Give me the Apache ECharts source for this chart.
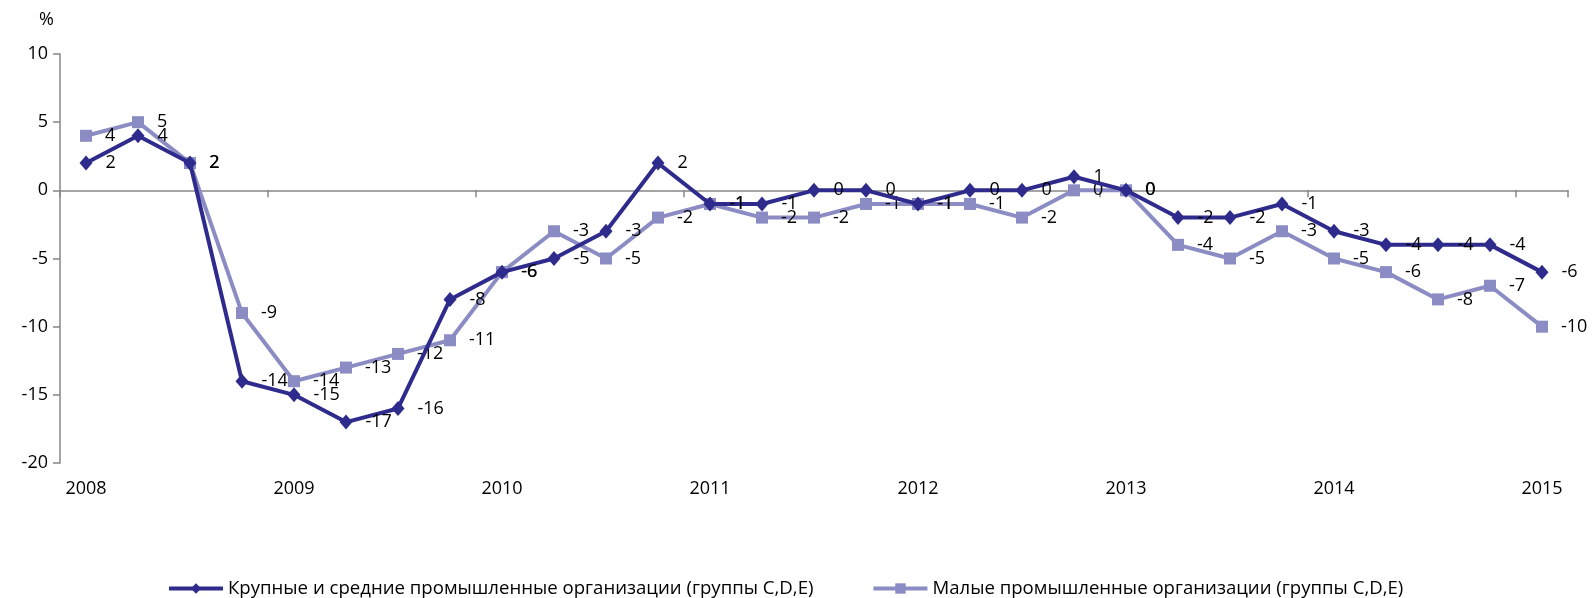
<!DOCTYPE html>
<html>
<head>
<meta charset="utf-8">
<script src="https://cdn.jsdelivr.net/npm/echarts@6/dist/echarts.min.js"></script>
<style>
  html, body { margin: 0; padding: 0; background: #fff; }
  #chart { width: 1594px; height: 598px; }
</style>
</head>
<body>
<div id="chart"></div>
<script>
// годы на оси X (подписи каждые 4 квартала)
var years = ['2008', '2009', '2010', '2011', '2012', '2013', '2014', '2015'];

// крупные и средние организации, по кварталам 2008 I - 2015 I
var bigOrgs = [2, 4, 2, -14, -15, -17, -16, -8, -6, -5, -3, 2, -1, -1, 0, 0,
               -1, 0, 0, 1, 0, -2, -2, -1, -3, -4, -4, -4, -6];
// малые организации
var smallOrgs = [4, 5, 2, -9, -14, -13, -12, -11, -6, -3, -5, -2, -1, -2, -2, -1,
                 -1, -1, -2, 0, 0, -4, -5, -3, -5, -6, -8, -7, -10];

var seriesNames = [
  'Крупные и средние промышленные организации (группы C,D,E)',
  'Малые промышленные организации (группы C,D,E)'
];

// кварталы: 4 на каждый год, последний год — только I квартал
var quarters = [];
for (var i = 0; i < bigOrgs.length; i++) {
  quarters.push(years[Math.floor(i / 4)] + '-' + (i % 4 + 1));
}

var font = 'Open Sans';
var axisColor = '#868686';
var navy = '#2E2B8C';
var lilac = '#8C8CC4';

var myChart = echarts.init(document.getElementById('chart'));

var labelOpt = {
  show: true,
  position: 'right',
  distance: 13,
  color: '#000',
  fontFamily: font,
  fontSize: 18
};

var option = {
  animation: false,
  title: {
    text: '%',
    left: 34,
    top: 6,
    textStyle: { fontFamily: font, fontSize: 18, fontWeight: 'normal', color: '#000' }
  },
  legend: {
    left: 162,
    top: 574,
    itemWidth: 54,
    itemHeight: 13,
    itemGap: 58,
    textStyle: { fontFamily: font, fontSize: 18.6, color: '#000' },
    data: [
      { name: seriesNames[0], lineStyle: { width: 4, color: navy } },
      { name: seriesNames[1], lineStyle: { width: 4, color: lilac } }
    ]
  },
  grid: { left: 60, right: 26, top: 54, bottom: 135 },
  xAxis: [{
    type: 'category',
    data: quarters,
    boundaryGap: true,
    axisLine: { onZero: true, lineStyle: { color: axisColor, width: 1.5 } },
    axisTick: { show: true, interval: 3, length: 7, lineStyle: { color: axisColor, width: 1.5 } },
    axisLabel: { show: false },
    splitLine: { show: false }
  }, {
    type: 'category',
    data: quarters,
    position: 'bottom',
    boundaryGap: true,
    axisLine: { show: false, onZero: false },
    axisTick: { show: false },
    axisLabel: {
      interval: 3,
      margin: 17,
      color: '#000',
      fontFamily: font,
      fontSize: 18,
      formatter: function (v) { return v.split('-')[0]; }
    },
    splitLine: { show: false }
  }],
  yAxis: {
    type: 'value',
    min: -20,
    max: 10,
    interval: 5,
    axisLine: { show: true, lineStyle: { color: axisColor, width: 1.5 } },
    axisTick: { show: true, length: 7, lineStyle: { color: axisColor, width: 1.5 } },
    axisLabel: { margin: 12, color: '#000', fontFamily: font, fontSize: 18 },
    splitLine: { show: false }
  },
  series: [{
    name: seriesNames[0],
    type: 'line',
    data: bigOrgs,
    symbol: 'diamond',
    symbolSize: [13, 15],
    color: navy,
    lineStyle: { width: 4, color: navy },
    itemStyle: { color: navy },
    label: labelOpt,
    z: 3
  }, {
    name: seriesNames[1],
    type: 'line',
    data: smallOrgs,
    symbol: 'rect',
    symbolSize: 12,
    color: lilac,
    lineStyle: { width: 4, color: lilac },
    itemStyle: { color: lilac },
    label: labelOpt,
    z: 2
  }]
};

myChart.setOption(option);
</script>
</body>
</html>
